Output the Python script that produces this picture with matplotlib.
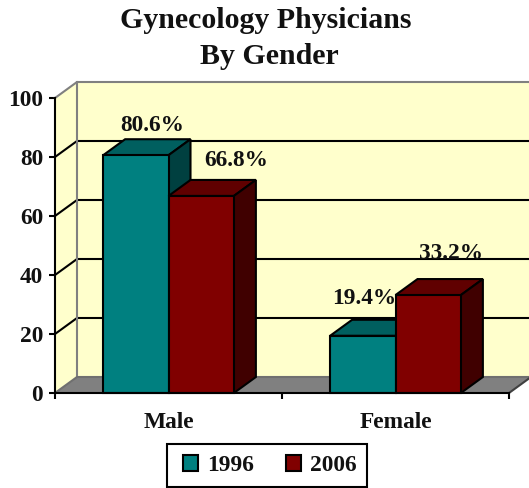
import matplotlib
matplotlib.use("Agg")
import matplotlib.pyplot as plt
from matplotlib.patches import Polygon, Patch, Rectangle

categories = ["Male", "Female"]
series_names = ["1996", "2006"]
values_1996 = [80.6, 19.4]
values_2006 = [66.8, 33.2]
y_ticks = [0, 20, 40, 60, 80, 100]

W, H = 529, 488
DPI = 100
X0, X1, Y0, Y100 = 55, 509, 393, 98
fig = plt.figure(figsize=(W / DPI, H / DPI), dpi=DPI, facecolor="white")
ax = fig.add_axes([X0 / W, 1 - Y0 / H, (X1 - X0) / W, (Y0 - Y100) / H])
ax.set_xlim(0, 2)
ax.set_ylim(0, 100)
ax.patch.set_visible(False)

plt.rcParams["font.family"] = "Liberation Serif"
FONT = dict(family="Liberation Serif", weight="bold", color="#111111")
FS = 16.8

# depth of the 3D box, in data units
DX = 22 / ((X1 - X0) / 2)
DY = 16 / ((Y0 - Y100) / 100)
LW = 1.5
WALL = "#FFFFCC"
GRAY = "#808080"


def poly(pts, fc, ec="none", lw=0, z=1):
    ax.add_patch(Polygon(pts, closed=True, facecolor=fc, edgecolor=ec,
                         linewidth=lw, zorder=z, clip_on=False, joinstyle="miter"))


# walls and floor
poly([(DX, DY), (2 + DX, DY), (2 + DX, 100 + DY), (DX, 100 + DY)], WALL)
poly([(0, 0), (DX, DY), (DX, 100 + DY), (0, 100)], WALL)
poly([(0, 0), (2, 0), (2 + DX, DY), (DX, DY)], GRAY)

for v in y_ticks[1:-1]:
    ax.plot([0, DX, 2 + DX], [v, v + DY, v + DY], color="black", lw=LW, zorder=2,
            clip_on=False, solid_joinstyle="miter")
ax.plot([0, DX, 2 + DX], [100, 100 + DY, 100 + DY], color=GRAY, lw=LW, zorder=2, clip_on=False)
ax.plot([DX, DX], [DY, 100 + DY], color=GRAY, lw=LW, zorder=2, clip_on=False)
ax.plot([0, DX, 2 + DX], [0, DY, DY], color="#707070", lw=LW, zorder=2, clip_on=False)
ax.plot([2, 2 + DX], [0, DY], color="#404040", lw=LW, zorder=2, clip_on=False)

# bars
BAR_W = 0.288
centers = [0.5, 1.5]
styles = [("#008080", "#005F5F", "#004040"), ("#800000", "#600000", "#400000")]
z = 3
for c_i, c in enumerate(centers):
    for s_i, vals in enumerate([values_1996, values_2006]):
        v = vals[c_i]
        left = c - BAR_W if s_i == 0 else c
        right = left + BAR_W
        front, top, side = styles[s_i]
        ekw = dict(ec="black", lw=LW)
        poly([(left, v), (right, v), (right + DX, v + DY), (left + DX, v + DY)], top, z=z, **ekw)
        poly([(right, 0), (right + DX, DY), (right + DX, v + DY), (right, v)], side, z=z, **ekw)
        ax.bar(left, v, width=BAR_W, align="edge", color=front, edgecolor="black",
               linewidth=LW, zorder=z + 0.5, clip_on=False)
        z += 1

# data labels (offsets in pixels from bar top, as placed in the original)
label_offsets = [[(16, 30), (35, 35)], [(1, 37), (23, 42)]]
for c_i, c in enumerate(centers):
    for s_i, vals in enumerate([values_1996, values_2006]):
        v = vals[c_i]
        xc = c - BAR_W / 2 if s_i == 0 else c + BAR_W / 2
        ax.annotate(f"{v:.1f}%", (xc, v), xytext=label_offsets[c_i][s_i],
                    textcoords="offset pixels", ha="center", va="center",
                    fontsize=FS, zorder=20, annotation_clip=False, **FONT)

# axes
for s in ("top", "right"):
    ax.spines[s].set_visible(False)
for s in ("left", "bottom"):
    ax.spines[s].set_linewidth(LW)
    ax.spines[s].set_zorder(15)
ax.set_yticks(y_ticks)
ax.set_yticklabels([str(t) for t in y_ticks], fontsize=FS, **FONT)
ax.set_xticks([0, 1, 2])
ax.set_xticklabels([])
ax.set_xticks(centers, minor=True)
ax.set_xticklabels(categories, minor=True, fontsize=FS, **FONT)
ax.tick_params(axis="x", which="minor", length=0, pad=14)
ax.tick_params(axis="both", which="major", length=4.5, width=LW, pad=4)

# title
fig.text(265.5 / W, 1 - 20 / H, "Gynecology Physicians", ha="center", va="center", fontsize=21.5, **FONT)
fig.text(269 / W, 1 - 57 / H, "By Gender", ha="center", va="center", fontsize=21.5, **FONT)

# legend
fig.add_artist(Rectangle((167 / W, 1 - 487 / H), 200 / W, 43 / H, transform=fig.transFigure,
                         facecolor="white", edgecolor="black", linewidth=LW))
handles = [Patch(facecolor=styles[i][0], edgecolor="black", linewidth=LW, label=series_names[i])
           for i in range(2)]
leg = fig.legend(handles=handles, ncol=2, loc="center", bbox_to_anchor=(270 / W, 1 - 465.5 / H),
                 frameon=False,
                 prop=dict(family="Liberation Serif", weight="bold", size=FS),
                 handlelength=0.65, handleheight=0.65, handletextpad=0.4, columnspacing=1.35,
                 borderpad=0.5, borderaxespad=0)
for t in leg.get_texts():
    t.set_color("#111111")

fig.savefig("out.png", dpi=DPI)
